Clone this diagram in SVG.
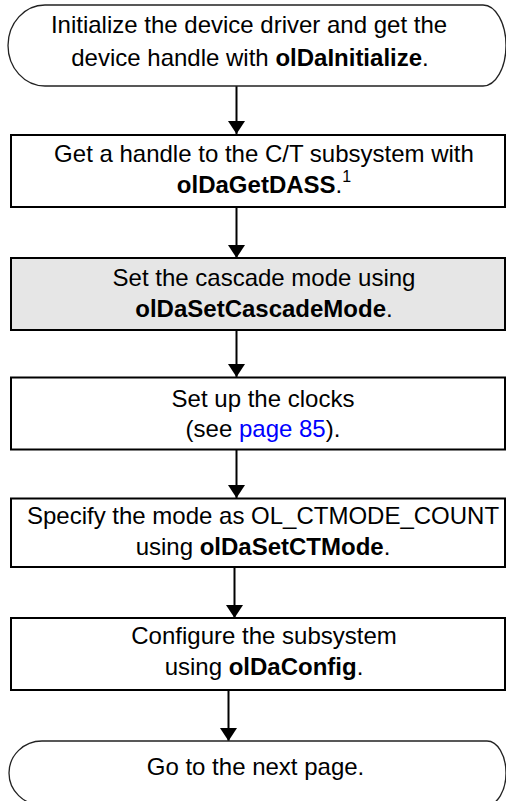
<svg xmlns="http://www.w3.org/2000/svg" width="506" height="801" viewBox="0 0 506 801">
<style>
.term{fill:#fff;stroke:#222;stroke-width:1.3}
.box{fill:#fff;stroke:#000;stroke-width:2}
.shade{fill:#e6e6e6}
.t{font-family:"Liberation Sans",Arial,Helvetica,sans-serif;font-size:24px;fill:#000;text-anchor:middle}
.b{font-weight:bold}
.link{fill:#0000ff}
.sup{font-size:16px}
.conn{stroke:#000;stroke-width:2;fill:none}
</style>
<defs>
<marker id="ah" markerUnits="userSpaceOnUse" markerWidth="13" markerHeight="17" viewBox="0 0 13 17" refX="13" refY="8.5" orient="auto">
<path d="M0,0 L13,8.5 L0,17 Z" fill="#000"/>
</marker>
</defs>
<rect width="506" height="801" fill="#fff"/>
<g id="connectors">
<line class="conn" x1="236.5" y1="86" x2="236.5" y2="134" marker-end="url(#ah)"/>
<line class="conn" x1="236.5" y1="207" x2="236.5" y2="258" marker-end="url(#ah)"/>
<line class="conn" x1="236.5" y1="330" x2="236.5" y2="377" marker-end="url(#ah)"/>
<line class="conn" x1="236.5" y1="450" x2="236.5" y2="498" marker-end="url(#ah)"/>
<line class="conn" x1="234.5" y1="567" x2="234.5" y2="618" marker-end="url(#ah)"/>
<line class="conn" x1="228.5" y1="690" x2="228.5" y2="741" marker-end="url(#ah)"/>
</g>
<g id="start">
<path class="term" d="M45,5 H483 A23,40.5 0 0 1 483,86 H45 A37,40.5 0 0 1 45,5 Z"/>
<text class="t" x="249" y="33">Initialize the device driver and get the</text>
<text class="t" x="250" y="66">device handle with <tspan class="b">olDaInitialize</tspan>.</text>
</g>
<g id="getdass">
<rect class="box" x="11" y="135" width="494" height="72"/>
<text class="t" x="264" y="162">Get a handle to the C/T subsystem with</text>
<text class="t" x="264" y="193"><tspan class="b">olDaGetDASS</tspan>.<tspan class="sup" dy="-11">1</tspan></text>
</g>
<g id="cascade">
<rect class="box shade" x="11" y="258" width="494" height="72"/>
<text class="t" x="264" y="286">Set the cascade mode using</text>
<text class="t" x="264" y="317"><tspan class="b">olDaSetCascadeMode</tspan>.</text>
</g>
<g id="clocks">
<rect class="box" x="11" y="377.5" width="494" height="72"/>
<text class="t" x="263" y="407">Set up the clocks</text>
<text class="t" x="263" y="437">(see <tspan class="link">page 85</tspan>).</text>
</g>
<g id="ctmode">
<rect class="box" x="11" y="498.5" width="494" height="68.5"/>
<text class="t" x="263" y="524">Specify the mode as OL_CTMODE_COUNT</text>
<text class="t" x="263" y="555">using <tspan class="b">olDaSetCTMode</tspan>.</text>
</g>
<g id="config">
<rect class="box" x="11" y="618" width="494" height="72"/>
<text class="t" x="264" y="644">Configure the subsystem</text>
<text class="t" x="264" y="675">using <tspan class="b">olDaConfig</tspan>.</text>
</g>
<g id="next">
<path class="term" d="M42,741 H487 A19,32 0 0 1 487,805 H42 A33,32 0 0 1 42,741 Z"/>
<text class="t" x="255.5" y="775">Go to the next page.</text>
</g>
</svg>
